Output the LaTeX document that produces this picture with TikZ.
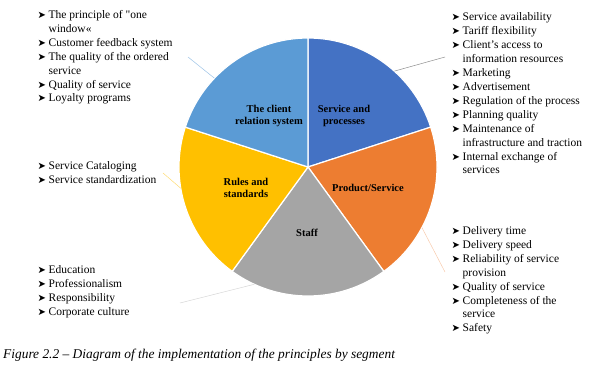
\documentclass[tikz,border=0pt]{standalone}
\usepackage{fontspec}
\setmainfont{Liberation Serif}
\newfontfamily\arrfont{DejaVu Sans}
\usepackage{xcolor}
\usepackage{tikz}

\definecolor{spblue}{HTML}{4472C4}
\definecolor{psorange}{HTML}{ED7D31}
\definecolor{stgray}{HTML}{A5A5A5}
\definecolor{rsgold}{HTML}{FFC000}
\definecolor{crlight}{HTML}{5B9BD5}

% arrowhead bullet, fixed width so the texts line up
\newcommand{\bl}{\makebox[11pt][l]{\arrfont\fontsize{10}{10}\selectfont ➤}}
\newcommand{\dq}{{\addfontfeatures{Ligatures=TeXOff}"}}

\begin{document}
\begin{tikzpicture}[x=1pt, y=1pt]
\tikzstyle{slice}=[draw=white, line width=1.2pt]
\tikzstyle{seglabel}=[font=\bfseries\fontsize{10.5}{12.3}\selectfont, align=center]
\tikzstyle{plist}=[anchor=base west, inner sep=0pt, font=\fontsize{11.5}{13.9}\selectfont]
\tikzstyle{leader}=[line width=0.5pt]

\useasboundingbox (0,0) rectangle (591,373);

\coordinate (c) at (308,206);

% the five segments
\path[slice, fill=spblue] (c) -- ++(90:129) arc[start angle=90, end angle=18, radius=129] -- cycle;
\path[slice, fill=psorange] (c) -- ++(18:129) arc[start angle=18, end angle=-54, radius=129] -- cycle;
\path[slice, fill=stgray] (c) -- ++(-54:129) arc[start angle=-54, end angle=-126, radius=129] -- cycle;
\path[slice, fill=rsgold] (c) -- ++(-126:129) arc[start angle=-126, end angle=-198, radius=129] -- cycle;
\path[slice, fill=crlight] (c) -- ++(162:129) arc[start angle=162, end angle=90, radius=129] -- cycle;

\node[seglabel] (sp-label) at (344,257) {Service and\\processes};
\node[seglabel] (cr-label) at (269,257) {The client\\relation system};
\node[seglabel] (rs-label) at (246,185) {Rules and\\standards};
\node[seglabel] (ps-label) at (368,185) {Product/Service};
\node[seglabel] (st-label) at (307,140) {Staff};

% lists of principles
\node[plist] (cr-list) at (37.5,354.5) {\begin{tabular}[t]{@{}l@{}l@{}}
\bl & The principle of \dq one\\
    & window«\\
\bl & Customer feedback system\\
\bl & The quality of the ordered\\
    & service\\
\bl & Quality of service\\
\bl & Loyalty programs
\end{tabular}};

\node[plist] (sp-list) at (451.5,352) {\begin{tabular}[t]{@{}l@{}l@{}}
\bl & Service availability\\
\bl & Tariff flexibility\\
\bl & Client's access to\\
    & information resources\\
\bl & Marketing\\
\bl & Advertisement\\
\bl & Regulation of the process\\
\bl & Planning quality\\
\bl & Maintenance of\\
    & infrastructure and traction\\
\bl & Internal exchange of\\
    & services
\end{tabular}};

\node[plist] (ps-list) at (451.5,138.5) {\begin{tabular}[t]{@{}l@{}l@{}}
\bl & Delivery time\\
\bl & Delivery speed\\
\bl & Reliability of service\\
    & provision\\
\bl & Quality of service\\
\bl & Completeness of the\\
    & service\\
\bl & Safety
\end{tabular}};

\node[plist] (rs-list) at (37.5,203.5) {\begin{tabular}[t]{@{}l@{}l@{}}
\bl & Service Cataloging\\
\bl & Service standardization
\end{tabular}};

\node[plist] (st-list) at (37.5,99.5) {\begin{tabular}[t]{@{}l@{}l@{}}
\bl & Education\\
\bl & Professionalism\\
\bl & Responsibility\\
\bl & Corporate culture
\end{tabular}};

% leader lines
\coordinate (sp-in) at ([shift={(48:129)}]c);
\coordinate (sp-out) at (445,316);
\coordinate (cr-in) at ([shift={(136.5:129)}]c);
\coordinate (cr-out) at (188,316);
\coordinate (ps-in) at ([shift={(-28:129)}]c);
\coordinate (ps-out) at (445,101);
\coordinate (rs-in) at ([shift={(189.5:129)}]c);
\coordinate (rs-out) at (163,200);
\coordinate (st-in) at ([shift={(-114.6:129)}]c);
\coordinate (st-out) at (180,70);

\draw[leader, draw=black!45] (sp-in) -- (sp-out);
\draw[leader, draw=crlight!60] (cr-in) -- (cr-out);
\draw[leader, draw=psorange!40] (ps-in) -- (ps-out);
\draw[leader, draw=rsgold!55] (rs-in) -- (rs-out);
\draw[leader, draw=stgray!45] (st-in) -- (st-out);

\node[anchor=base west, inner sep=0pt, font=\itshape\fontsize{13.4}{15}\selectfont] (caption) at (3,15)
  {Figure 2.2 -- Diagram of the implementation of the principles by segment};
\end{tikzpicture}
\end{document}
